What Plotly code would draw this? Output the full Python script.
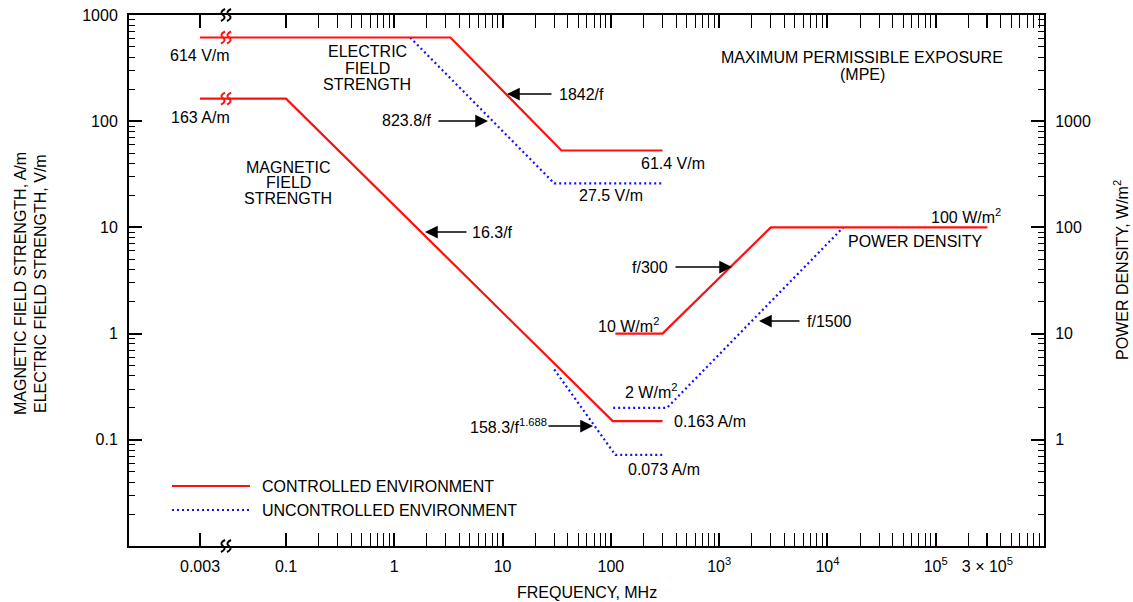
import numpy as np
import plotly.graph_objects as go

# ---------------- data ----------------
# Electric field strength, V/m (left axis)
e_ctrl_freq = [0.003, 3.3, 35, 300]
e_ctrl_val = [614, 614, 53, 53]
e_unc_freq = [1.4, 30, 300]
e_unc_val = [614, 26, 26]
# Magnetic field strength, A/m (left axis)
h_ctrl_freq = [0.003, 0.1, 104, 300]
h_ctrl_val = [163, 163, 0.15, 0.15]
h_unc_freq = [30, 110, 300]
h_unc_val = [0.46, 0.072, 0.072]
# Power density, W/m^2 (right axis)
s_ctrl_freq = [110, 300, 3000, 300000]
s_ctrl_val = [10, 10, 100, 100]
s_unc_freq = [105, 330, 14000]
s_unc_val = [2, 2, 100]

x_tick_freqs = [0.003, 0.1, 1, 10, 100, 1e3, 1e4, 1e5, 3e5]
x_tick_text = ["0.003", "0.1", "1", "10", "100", "10<sup>3</sup>", "10<sup>4</sup>",
               "10<sup>5</sup>", "3 \u00d7 10<sup>5</sup>"]
y_left_ticks = [0.1, 1, 10, 100, 1000]
y_left_text = ["0.1", "1", "10", "100", "1000"]
y_right_ticks = [1, 10, 100, 1000]
y_right_text = ["1", "10", "100", "1000"]

# ---------------- geometry / style ----------------
W, H = 1133, 602
ML, MR, MT, MB = 129, 89, 15, 56
PW, PH = W - ML - MR, H - MT - MB
X_RANGE = [-2.45, 6.0]
Y_RANGE = [-2.0, 3.0]
Y2_RANGE = [-1.0, 4.0]
BREAK_POS = -1.794  # displayed log-position of the 0.003 MHz tick (axis break)
RED = "#ff1010"
BLUE = "#1010ff"
FONT = "Liberation Sans, Arial, sans-serif"


def xdisp(f):
    """Map frequency to displayed position, compressing the part below 0.1 MHz (axis break)."""
    f = np.asarray(f, float)
    lf = np.log10(f)
    lo, hi = np.log10(0.003), -1.0
    comp = BREAK_POS + (lf - lo) / (hi - lo) * (hi - BREAK_POS)
    return 10 ** np.where(lf < hi, comp, lf)


def P(px, py):
    return (px - ML) / PW, (H - MB - py) / PH


def minor_vals(d0, d1, skip=()):
    out = []
    for d in range(d0, d1 + 1):
        for k in range(2, 10):
            v = k * 10 ** d
            if not any(abs(v - s) / s < 1e-9 for s in skip):
                out.append(v)
    return out


fig = go.Figure()

line_ctrl = dict(color=RED, width=2.2)
line_unc = dict(color=BLUE, width=2.2, dash="2px,3px")

fig.add_trace(go.Scatter(x=xdisp(e_unc_freq), y=e_unc_val, mode="lines", line=line_unc, yaxis="y"))
fig.add_trace(go.Scatter(x=xdisp(h_unc_freq), y=h_unc_val, mode="lines", line=line_unc, yaxis="y"))
fig.add_trace(go.Scatter(x=xdisp(s_unc_freq), y=s_unc_val, mode="lines", line=line_unc, yaxis="y2"))
fig.add_trace(go.Scatter(x=xdisp(e_ctrl_freq), y=e_ctrl_val, mode="lines", line=line_ctrl, yaxis="y"))
fig.add_trace(go.Scatter(x=xdisp(h_ctrl_freq), y=h_ctrl_val, mode="lines", line=line_ctrl, yaxis="y"))
fig.add_trace(go.Scatter(x=xdisp(s_ctrl_freq), y=s_ctrl_val, mode="lines", line=line_ctrl, yaxis="y2"))

axis_common = dict(showline=True, linewidth=2, linecolor="black", ticks="inside", ticklen=13,
                   tickwidth=1.6, tickcolor="black", showgrid=False, zeroline=False,
                   automargin=False,
                   tickfont=dict(family=FONT, size=16, color="black"))

fig.update_layout(
    width=W, height=H,
    margin=dict(l=ML, r=MR, t=MT, b=MB, autoexpand=False),
    plot_bgcolor="white", paper_bgcolor="white",
    font=dict(family=FONT, size=16, color="black"),
    showlegend=False,
    xaxis=dict(type="log", range=X_RANGE, tickmode="array",
               tickvals=list(xdisp(x_tick_freqs)), ticktext=x_tick_text,
               mirror="allticks", ticklabelstandoff=5,
               minor=dict(tickmode="array", tickvals=minor_vals(-1, 5, skip=[3e5]),
                          ticks="inside", ticklen=6, tickwidth=1.3, tickcolor="black", showgrid=False),
               **axis_common),
    yaxis=dict(type="log", range=Y_RANGE, tickmode="array", tickvals=y_left_ticks,
               ticktext=y_left_text, ticklabelstandoff=6,
               minor=dict(tickmode="array", tickvals=minor_vals(-2, 2),
                          ticks="inside", ticklen=6, tickwidth=1.3, tickcolor="black", showgrid=False),
               **axis_common),
    yaxis2=dict(type="log", range=Y2_RANGE, overlaying="y", side="right", tickmode="array",
                tickvals=y_right_ticks, ticktext=y_right_text, ticklabelstandoff=6,
                minor=dict(tickmode="array", tickvals=minor_vals(-1, 3),
                           ticks="inside", ticklen=6, tickwidth=1.3, tickcolor="black", showgrid=False),
                **axis_common),
)

anns = []


def label(text, px, py, xanchor="center", size=16, angle=0):
    x, y = P(px, py)
    anns.append(dict(text=text, x=x, y=y, xref="paper", yref="paper", xanchor=xanchor,
                     yanchor="middle", showarrow=False, textangle=angle,
                     font=dict(family=FONT, size=size, color="black")))


def arrow(hx, hy, tx, ty):
    x, y = P(hx, hy)
    anns.append(dict(text="", x=x, y=y, xref="paper", yref="paper", showarrow=True,
                     ax=tx - hx, ay=ty - hy, arrowhead=2, arrowsize=1.5, arrowwidth=1.7,
                     arrowcolor="black", standoff=0, startstandoff=0))


label("614 V/m", 200, 55)
label("163 A/m", 200, 117)
label("ELECTRIC", 367, 52)
label("FIELD", 367, 68)
label("STRENGTH", 367, 84)
label("MAGNETIC", 288, 167)
label("FIELD", 288, 183)
label("STRENGTH", 288, 199)
label("1842/f", 557, 94, "left")
arrow(507, 94, 553, 94)
label("823.8/f", 433, 121, "right")
arrow(488, 121, 437, 121)
label("61.4 V/m", 639, 163, "left")
label("27.5 V/m", 577, 195, "left")
label("16.3/f", 470, 232, "left")
arrow(425, 232, 468, 232)
label("MAXIMUM PERMISSIBLE EXPOSURE", 862, 57)
label("(MPE)", 862, 74)
label("100 W/m<sup>2</sup>", 1003, 216, "right")
label("POWER DENSITY", 915, 241)
label("f/300", 670, 267, "right")
arrow(732, 267, 674, 267)
label("10 W/m<sup>2</sup>", 596, 325, "left")
label("f/1500", 805, 321, "left")
arrow(759, 321, 801, 321)
label("2 W/m<sup>2</sup>", 623, 391, "left")
label("158.3/f<sup>1.688</sup>", 549, 426, "right")
arrow(593, 426, 547, 426)
label("0.163 A/m", 672, 421, "left")
label("0.073 A/m", 626, 469, "left")
label("CONTROLLED ENVIRONMENT", 260, 486, "left")
label("UNCONTROLLED ENVIRONMENT", 260, 510, "left")
label("FREQUENCY, MHz", 587, 592)
label("MAGNETIC FIELD STRENGTH, A/m", 20, 284, angle=-90)
label("ELECTRIC FIELD STRENGTH, V/m", 40, 284, angle=-90)
label("POWER DENSITY, W/m<sup>2</sup>", 1121, 270, angle=-90)
fig.update_layout(annotations=anns)

shapes = []
# legend lines
for py, ln in [(486, line_ctrl), (510, line_unc)]:
    x0, y0 = P(172, py)
    x1, _ = P(250, py)
    shapes.append(dict(type="line", xref="paper", yref="paper", x0=x0, x1=x1, y0=y0, y1=y0,
                       line=ln))


# axis-break squiggles
def squiggles(px, py, color):
    xa, ya = P(px, py)
    for dx in (-3, 3):
        path = (f"M {dx - 2},-6 Q {dx + 4},-3 {dx},0 Q {dx - 4},3 {dx + 2},6")
        shapes.append(dict(type="path", xref="paper", yref="paper", xsizemode="pixel",
                           ysizemode="pixel", xanchor=xa, yanchor=ya, path=path,
                           line=dict(color=color, width=2)))


def ypix(v):
    return MT + (Y_RANGE[1] - np.log10(v)) / (Y_RANGE[1] - Y_RANGE[0]) * PH


BREAK_PX = 226
squiggles(BREAK_PX, MT, "black")
squiggles(BREAK_PX, H - MB, "black")
squiggles(BREAK_PX, ypix(e_ctrl_val[0]), RED)
squiggles(BREAK_PX, ypix(h_ctrl_val[0]), RED)
fig.update_layout(shapes=shapes)

fig.write_html("out.html", config={"displayModeBar": False},
               post_script="document.body.style.margin='0';document.body.style.overflow='hidden';")
